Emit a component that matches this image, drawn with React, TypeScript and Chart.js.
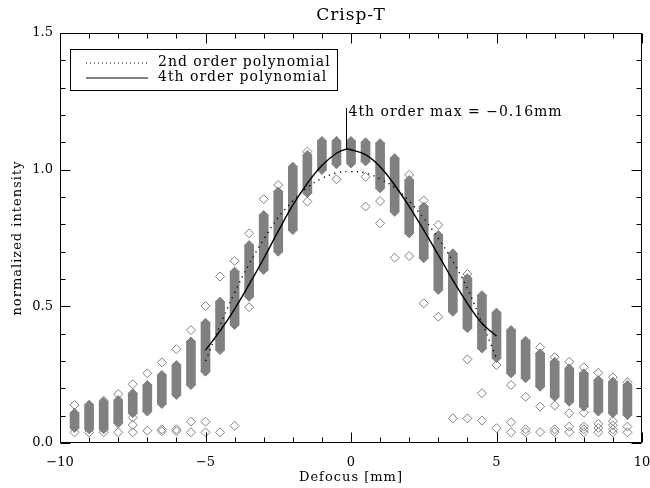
import React, { useEffect, useRef } from 'react';
import { Chart, registerables } from 'chart.js';

Chart.register(...registerables);

// ---------- data ----------
const columnX = [-9.5, -9, -8.5, -8, -7.5, -7, -6.5, -6, -5.5, -5, -4.5, -4, -3.5, -3, -2.5, -2, -1.5, -1, -0.5, 0, 0.5, 1, 1.5, 2, 2.5, 3, 3.5, 4, 4.5, 5, 5.5, 6, 6.5, 7, 7.5, 8, 8.5, 9, 9.5];
const bandHigh = [0.11, 0.14, 0.15, 0.157, 0.182, 0.212, 0.249, 0.285, 0.371, 0.44, 0.517, 0.627, 0.724, 0.834, 0.92, 1.011, 1.054, 1.105, 1.105, 1.105, 1.1, 1.097, 1.042, 0.962, 0.865, 0.761, 0.694, 0.603, 0.541, 0.477, 0.413, 0.374, 0.328, 0.297, 0.273, 0.255, 0.23, 0.224, 0.212];
const bandLow = [0.055, 0.05, 0.05, 0.075, 0.109, 0.115, 0.143, 0.176, 0.212, 0.261, 0.34, 0.432, 0.535, 0.633, 0.7, 0.779, 0.914, 0.999, 1.02, 1.023, 1.03, 0.932, 0.846, 0.767, 0.676, 0.56, 0.48, 0.42, 0.346, 0.31, 0.255, 0.237, 0.206, 0.169, 0.151, 0.133, 0.115, 0.109, 0.102];

const outlierX = [
  -9.5, -9.5, -9, -8.5, -8.5, -8, -8, -8, -8, -7.5, -7.5, -7.5, -7.5, -7, -7,
  -6.5, -6.5, -6.5, -6, -6, -6, -5.5, -5.5, -5.5, -5, -5, -5, -4.5, -4.5, -4, -4,
  -3.5, -3.5, -3, -2.5, -1.5, -1.5, -0.5, 0.5, 0.5, 1, 1, 1.5, 2, 2, 2.5, 2.5, 3, 3,
  3.5, 4, 4, 4, 4.5, 4.5, 5, 5, 5.5, 5.5, 5.5, 6, 6, 6, 6.5, 6.5, 6.5,
  7, 7, 7, 7, 7.5, 7.5, 7.5, 7.5, 8, 8, 8, 8, 8, 8.5, 8.5, 8.5, 8.5,
  9, 9, 9, 9, 9, 9.5, 9.5, 9.5,
];
const outlierY = [
  0.139, 0.039, 0.039, 0.155, 0.039, 0.179, 0.09, 0.072, 0.039, 0.215, 0.093, 0.066, 0.039, 0.255, 0.045,
  0.295, 0.05, 0.043, 0.343, 0.05, 0.043, 0.413, 0.078, 0.039, 0.501, 0.078, 0.039, 0.609, 0.039, 0.666, 0.063,
  0.767, 0.497, 0.892, 0.944, 1.066, 0.883, 0.965, 0.974, 0.865, 0.885, 0.804, 0.678, 0.981, 0.684, 0.887, 0.511, 0.798, 0.462,
  0.09, 0.618, 0.306, 0.09, 0.182, 0.082, 0.285, 0.054, 0.212, 0.076, 0.039, 0.169, 0.05, 0.039, 0.35, 0.133, 0.04,
  0.314, 0.137, 0.05, 0.04, 0.297, 0.109, 0.06, 0.04, 0.277, 0.111, 0.06, 0.05, 0.039, 0.257, 0.07, 0.055, 0.039,
  0.24, 0.08, 0.065, 0.05, 0.039, 0.222, 0.06, 0.039,
];

const fourthX = [-5, -4.5, -4, -3.5, -3, -2.5, -2, -1.5, -1, -0.5, -0.16, 0, 0.5, 1, 1.5, 2, 2.5, 3, 3.5, 4, 4.5, 5];
const fourthY = [0.34, 0.41, 0.49, 0.58, 0.675, 0.775, 0.87, 0.95, 1.015, 1.06, 1.075, 1.073, 1.055, 1.011, 0.944, 0.865, 0.779, 0.688, 0.596, 0.511, 0.438, 0.391];
const secondX = [-5, -4.5, -4, -3.5, -3, -2.5, -2, -1.5, -1, -0.5, 0, 0.5, 1, 1.5, 2, 2.5, 3, 3.5, 4, 4.5, 5];
const secondY = [0.3, 0.43, 0.55, 0.655, 0.745, 0.825, 0.885, 0.935, 0.968, 0.988, 0.993, 0.988, 0.966, 0.935, 0.885, 0.822, 0.749, 0.665, 0.565, 0.44, 0.31];

const peakX = -0.16;
const peakY = 1.075;
const markerTopY = 1.226;

const xMin = -10, xMax = 10, xMajorStep = 5, xMinorStep = 1;
const yMin = 0, yMax = 1.5, yMajorStep = 0.5, yMinorStep = 0.1;

const titleText = 'Crisp-T';
const xTitle = 'Defocus [mm]';
const yTitle = 'normalized intensity';
const legendLabels = ['2nd order polynomial', '4th order polynomial'];
const annotationText = '4th order max = \u22120.16mm';

const GRAY = '#808080';
const FONT = '"DejaVu Serif", serif';

const fmtX = (v: number) => (v < 0 ? '\u2212' + Math.abs(v) : String(v));

const decorPlugin = {
  id: 'decor',
  afterDatasetsDraw(chart: any) {
    const { ctx, chartArea: a, scales } = chart;
    const xs = scales.x, ys = scales.y;
    ctx.save();
    ctx.strokeStyle = '#000';
    ctx.lineWidth = 1;
    const L = Math.round(a.left) + 0.5, R = Math.round(a.right) - 0.5;
    const T = Math.round(a.top) + 0.5, B = Math.round(a.bottom) - 0.5;
    ctx.beginPath();
    ctx.moveTo(L, T); ctx.lineTo(R, T); ctx.lineTo(R, B); ctx.lineTo(L, B); ctx.closePath();
    ctx.stroke();
    // x ticks
    const nx = Math.round((xMax - xMin) / xMinorStep);
    ctx.beginPath();
    for (let i = 0; i <= nx; i++) {
      const v = xMin + i * xMinorStep;
      const major = Math.abs(v / xMajorStep - Math.round(v / xMajorStep)) < 1e-6;
      const len = major ? 10 : 5;
      const px = Math.round(xs.getPixelForValue(v)) + 0.5;
      ctx.moveTo(px, B); ctx.lineTo(px, B - len);
      ctx.moveTo(px, T); ctx.lineTo(px, T + len);
    }
    // y ticks
    const ny = Math.round((yMax - yMin) / yMinorStep);
    for (let i = 0; i <= ny; i++) {
      const v = yMin + i * yMinorStep;
      const major = Math.abs(v / yMajorStep - Math.round(v / yMajorStep)) < 1e-6;
      const len = major ? 10 : 5;
      const py = Math.round(ys.getPixelForValue(v)) + 0.5;
      ctx.moveTo(L, py); ctx.lineTo(L + len, py);
      ctx.moveTo(R, py); ctx.lineTo(R - len, py);
    }
    ctx.stroke();

    // annotation marker
    const mx = Math.round(xs.getPixelForValue(peakX)) + 0.5;
    ctx.beginPath();
    ctx.moveTo(mx, ys.getPixelForValue(peakY));
    ctx.lineTo(mx, ys.getPixelForValue(markerTopY));
    ctx.stroke();

    (ctx as any).letterSpacing = '1px';
    ctx.fillStyle = '#000';
    ctx.textBaseline = 'middle';
    ctx.textAlign = 'left';
    ctx.font = '14px ' + FONT;
    ctx.fillText(annotationText, mx + 2, ys.getPixelForValue(markerTopY) + 4);

    // legend
    const lx = a.left + 10, ly = a.top + 16, lw = 267, lh = 41;
    ctx.fillStyle = '#fff';
    ctx.fillRect(lx, ly, lw, lh);
    ctx.strokeStyle = '#000';
    ctx.strokeRect(Math.round(lx) + 0.5, Math.round(ly) + 0.5, lw, lh);
    const l1 = ly + 14, l2 = ly + 29;
    ctx.beginPath();
    ctx.setLineDash([1, 3]);
    ctx.lineWidth = 1.2;
    ctx.moveTo(lx + 16, l1); ctx.lineTo(lx + 78, l1);
    ctx.stroke();
    ctx.setLineDash([]);
    ctx.beginPath();
    ctx.strokeStyle = GRAY;
    ctx.lineWidth = 2;
    ctx.moveTo(lx + 16, l2); ctx.lineTo(lx + 78, l2);
    ctx.stroke();
    ctx.fillStyle = '#000';
    ctx.fillText(legendLabels[0], lx + 88, l1 - 1);
    ctx.fillText(legendLabels[1], lx + 88, l2 - 1);

    // titles
    ctx.textAlign = 'center';
    ctx.font = '17px ' + FONT;
    const cx = (a.left + a.right) / 2;
    ctx.fillText(titleText, cx, 16);
    ctx.font = '13px ' + FONT;
    ctx.fillText(xTitle, cx, 478);
    ctx.translate(18, (a.top + a.bottom) / 2);
    ctx.rotate(-Math.PI / 2);
    ctx.fillText(yTitle, 0, 0);
    ctx.restore();
  },
};

export default function App() {
  const ref = useRef<HTMLCanvasElement>(null);
  useEffect(() => {
    document.body.style.margin = '0';
    const bands = columnX.map((x, i) => ({ x, y: [bandLow[i], bandHigh[i]] }));
    const ends = columnX.flatMap((x, i) => [{ x, y: bandHigh[i] }, { x, y: bandLow[i] }]);
    const outliers = outlierX.map((x, i) => ({ x, y: outlierY[i] }));
    const fourth = fourthX.map((x, i) => ({ x, y: fourthY[i] }));
    const second = secondX.map((x, i) => ({ x, y: secondY[i] }));
    const chart = new Chart(ref.current!, {
      type: 'scatter',
      data: {
        datasets: [
          {
            type: 'line', data: fourth, borderColor: '#000', borderWidth: 1.4,
            pointRadius: 0, tension: 0.4, fill: false,
          } as any,
          {
            type: 'line', data: second, borderColor: '#000', borderWidth: 1.4,
            borderDash: [1.2, 4.5], pointRadius: 0, tension: 0.4, fill: false,
          } as any,
          {
            type: 'line', data: ends, showLine: false, pointStyle: 'rectRot',
            pointRadius: 4.5, backgroundColor: GRAY, borderColor: GRAY, borderWidth: 1,
          } as any,
          {
            type: 'bar', data: bands, backgroundColor: GRAY, borderWidth: 0,
            barThickness: 9, grouped: false,
          } as any,
          {
            type: 'scatter', data: outliers, pointStyle: 'rectRot', pointRadius: 4.5,
            backgroundColor: 'rgba(255,255,255,0)', borderColor: GRAY, borderWidth: 1,
          } as any,
        ],
      },
      options: {
        animation: false,
        responsive: false,
        devicePixelRatio: 1,
        layout: { padding: { top: 33, right: 8, left: 0, bottom: 0 } },
        plugins: { legend: { display: false }, tooltip: { enabled: false }, title: { display: false } },
        scales: {
          x: {
            type: 'linear', min: xMin, max: xMax, offset: false,
            grid: { display: false, drawTicks: false }, border: { display: false },
            ticks: { stepSize: xMajorStep, padding: 12, color: '#000', maxRotation: 0,
              font: { size: 13, family: FONT }, callback: (v: any) => fmtX(Number(v)) },
            afterFit: (s: any) => { s.height = 45; s.paddingLeft = 0; s.paddingRight = 0; },
          },
          y: {
            type: 'linear', min: yMin, max: yMax,
            grid: { display: false, drawTicks: false }, border: { display: false },
            ticks: { stepSize: yMajorStep, padding: 7, color: '#000',
              font: { size: 13, family: FONT }, callback: (v: any) => Number(v).toFixed(1) },
            afterFit: (s: any) => { s.width = 60; s.paddingTop = 0; s.paddingBottom = 0; },
          },
        },
      } as any,
      plugins: [decorPlugin],
    });
    return () => chart.destroy();
  }, []);
  return (
    <div style={{ width: 650, height: 488 }}>
      <canvas ref={ref} width={650} height={488} style={{ display: 'block' }} />
    </div>
  );
}
